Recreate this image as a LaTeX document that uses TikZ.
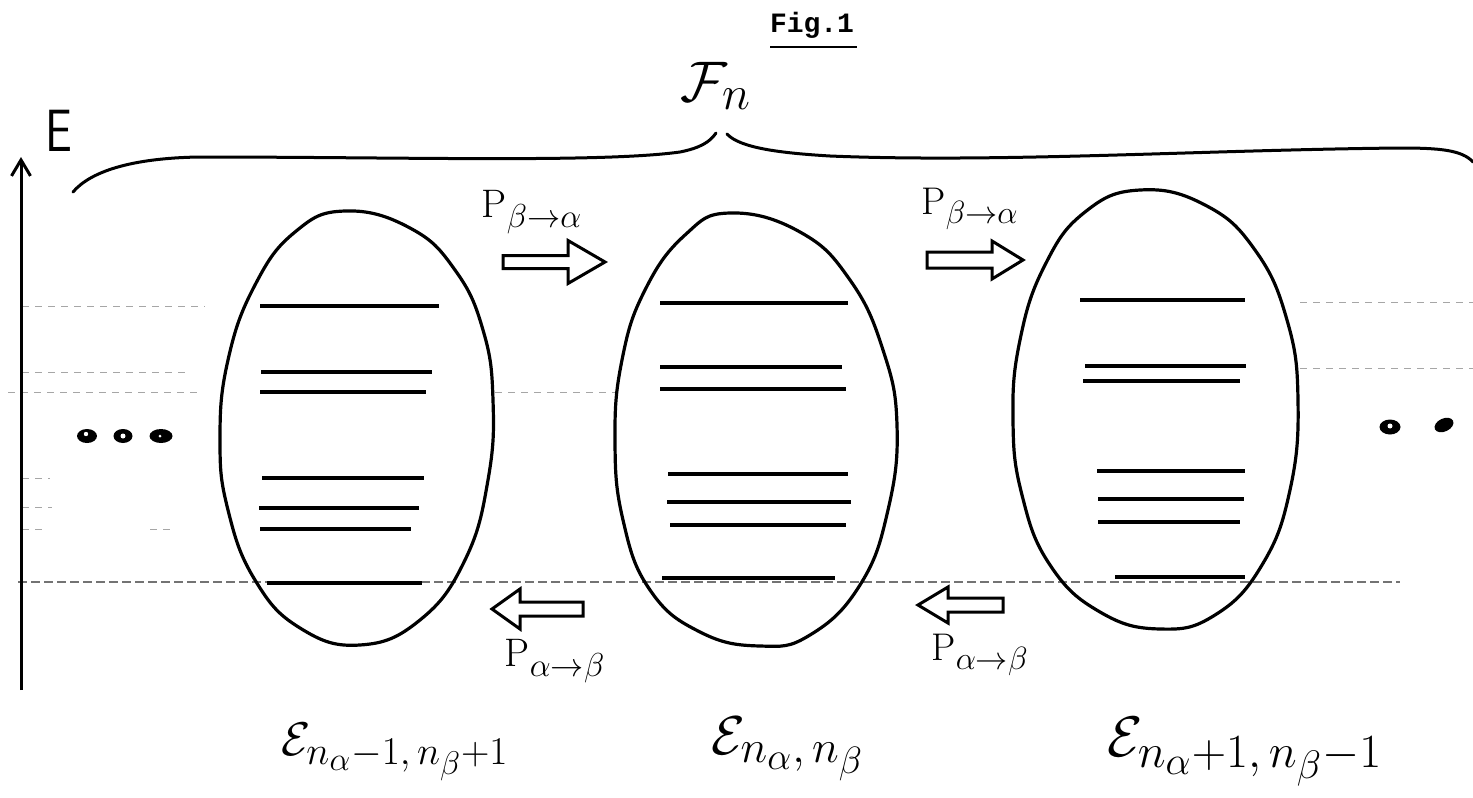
\documentclass[tikz,border=0pt]{standalone}
\usepackage{fontspec}
\newfontfamily\figfont{Liberation Mono}
\usetikzlibrary{arrows.meta}
\begin{document}
\begin{tikzpicture}[x=1pt,y=-1pt,
  outline/.style={line width=3.2pt, line join=round},
  levelline/.style={line width=4pt},
  guide/.style={black!35, line width=1pt, dash pattern=on 7pt off 6pt},
  barrow/.style={draw, line width=3pt, line join=miter, fill=white},
  lab/.style={inner sep=0pt},
  dotmark/.style={fill=black},
]
\useasboundingbox (0,0) rectangle (1473,798);
\fill[white] (0,0) rectangle (1473,798);

% faint guide lines
\draw[guide] (22,306) -- (205,306);
\draw[guide] (22,372) -- (190,372);
\draw[guide] (8,392) -- (200,392);
\draw[guide] (495,392) -- (615,392);
\draw[guide] (22,478) -- (50,478);
\draw[guide] (22,507) -- (52,507);
\draw[guide] (22,529) -- (42,529);
\draw[guide] (150,529) -- (170,529);
\draw[guide] (1300,302) -- (1473,302);
\draw[guide] (1300,368) -- (1473,368);
\draw[black!55, line width=1.2pt, dash pattern=on 9pt off 4pt] (18,582) -- (1400,582);

% energy axis
\coordinate (axbot) at (21,690);
\coordinate (axtop) at (21,157);
\draw[line width=3pt, -{Straight Barb[length=16pt,width=19pt]}] (axbot) -- (axtop);
\node[lab, font=\sffamily\Huge, scale=2.4, xscale=0.8] (Elab) at (59,131) {E};

% brace
\draw[line width=3pt, line cap=round]
  (73,192) .. controls (90,172) and (130,158) .. (200,157)
  .. controls (400,157) and (600,163) .. (680,152)
  .. controls (700,148) and (710,142) .. (716,133);
\draw[line width=3pt, line cap=round]
  (727,134) .. controls (740,148) and (780,153) .. (830,156)
  .. controls (1000,163) and (1200,150) .. (1400,148)
  .. controls (1440,148) and (1462,150) .. (1473,162);
\node[lab, scale=2.3] (Fn) at (716,86) {\Huge$\mathcal{F}_{n}$};

% title
\node[lab] (title) at (812,25) {\fontsize{28}{32}\selectfont\figfont\bfseries Fig.1};
\draw[line width=2pt] (770,47) -- (857,47);

% ellipses (manifolds)
\draw[outline] plot[smooth cycle, tension=0.75] coordinates {
 (345,211) (410,228) (455,270) (483,330) (493,400) (488,480) (465,560) (420,620)
 (360,645) (300,628) (255,580) (228,510) (220,440) (228,360) (255,285) (295,232)};
\draw[outline] plot[smooth cycle, tension=0.75] coordinates {
 (730,213) (800,232) (850,280) (883,350) (897,425) (888,510) (860,585) (810,635)
 (760,646) (700,632) (650,590) (623,520) (615,440) (622,360) (645,290) (685,235)};
\draw[outline] plot[smooth cycle, tension=0.75] coordinates {
 (1140,190) (1205,205) (1255,250) (1287,320) (1298,400) (1290,490) (1262,565) (1215,615)
 (1160,629) (1100,612) (1050,565) (1022,495) (1013,420) (1020,340) (1045,265) (1085,212)};

% energy levels
\foreach \y/\a/\b in {306/260/439, 372/261/432, 392/260/426, 478/262/424, 508/259/419, 529/260/411, 583/267/422}
  \draw[levelline] (\a,\y) -- (\b,\y);
\foreach \y/\a/\b in {303/660/848, 367/660/842, 389/660/846, 474/668/848, 502/667/851, 525/670/846, 578/662/835}
  \draw[levelline] (\a,\y) -- (\b,\y);
\foreach \y/\a/\b in {300/1080/1245, 366/1085/1246, 381/1083/1240, 471/1097/1245, 499/1098/1244, 522/1098/1240, 577/1115/1245}
  \draw[levelline] (\a,\y) -- (\b,\y);

% dots
\fill[dotmark] (87,436) ellipse [x radius=10, y radius=7];
\fill[white] (86,434) circle [radius=2.2];
\fill[dotmark] (123,436) ellipse [x radius=9.5, y radius=7];
\fill[white] (123,436) circle [radius=2.5];
\fill[dotmark] (161,436) ellipse [x radius=11.5, y radius=7];
\fill[white] (160,436) circle [radius=1.5];
\fill[dotmark] (1390,427) ellipse [x radius=10.5, y radius=7.5];
\fill[white] (1390,426) circle [radius=2.5];
\fill[dotmark, rotate around={25:(1444,425)}] (1444,425) ellipse [x radius=10, y radius=6.5];

% transfer arrows
\draw[barrow] (503,255.5) -- (568,255.5) -- (568,240.5) -- (605,262) -- (568,283.5) -- (568,268.5) -- (503,268.5) -- cycle;
\draw[barrow] (927,252) -- (992,252) -- (992,241) -- (1023,260) -- (992,279) -- (992,268) -- (927,268) -- cycle;
\draw[barrow] (583,602) -- (520,602) -- (520,589) -- (492,609) -- (520,629) -- (520,616) -- (583,616) -- cycle;
\draw[barrow] (1003,598) -- (948,598) -- (948,587) -- (918,605) -- (948,623) -- (948,612) -- (1003,612) -- cycle;

% transfer labels
\node[lab, scale=1.6] (pba1) at (532,212) {\Huge$\mathrm{P}_{\beta\to\alpha}$};
\node[lab, scale=1.55] (pba2) at (970,209) {\Huge$\mathrm{P}_{\beta\to\alpha}$};
\node[lab, scale=1.6] (pab1) at (555,661) {\Huge$\mathrm{P}_{\alpha\to\beta}$};
\node[lab, scale=1.55] (pab2) at (980,655) {\Huge$\mathrm{P}_{\alpha\to\beta}$};

% manifold labels
\node[lab, scale=1.9] (e1) at (395,752) {\Huge$\mathcal{E}_{n_\alpha-1,\,n_\beta+1}$};
\node[lab, scale=2.2] (e2) at (788,749) {\Huge$\mathcal{E}_{n_\alpha,\,n_\beta}$};
\node[lab, scale=2.3] (e3) at (1245,752) {\Huge$\mathcal{E}_{n_\alpha+1,\,n_\beta-1}$};
\end{tikzpicture}
\end{document}
